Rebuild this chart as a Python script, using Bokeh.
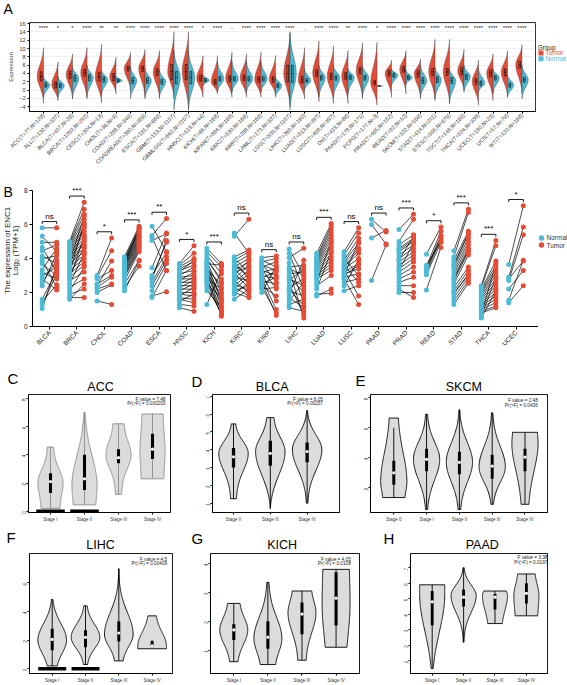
import numpy as np
from math import pi
from bokeh.plotting import figure
from bokeh.layouts import column, row
from bokeh.models import FixedTicker, Range1d
from bokeh.embed import file_html
from bokeh.resources import INLINE
from bokeh.core.properties import value

FONT = "Liberation Sans"
RED = "#E64B35"
CYAN = "#4DBBD5"

# ---------------- Panel A data ----------------
A_labels = ["ACC(T=77,N=128)", "ALL(T=132,N=337)", "BLCA(T=407,N=28)", "BRCA(T=1092,N=292)",
            "CESC(T=304,N=13)", "CHOL(T=36,N=9)", "COAD(T=288,N=349)", "COADREAD(T=380,N=359)",
            "ESCA(T=181,N=668)", "GBM(T=153,N=1157)", "GBMLGG(T=662,N=1157)", "HNSC(T=518,N=44)",
            "KICH(T=66,N=168)", "KIPAN(T=884,N=168)", "KIRC(T=530,N=168)", "KIRP(T=288,N=168)",
            "LAML(T=173,N=337)", "LGG(T=509,N=1157)", "LIHC(T=369,N=160)", "LUAD(T=513,N=397)",
            "LUSC(T=498,N=397)", "OV(T=419,N=88)", "PAAD(T=178,N=171)", "PCPG(T=177,N=3)",
            "PRAD(T=495,N=152)", "READ(T=92,N=10)", "SKCM(T=102,N=558)", "STAD(T=414,N=211)",
            "STES(T=595,N=879)", "TGCT(T=148,N=165)", "THCA(T=504,N=338)", "UCEC(T=180,N=23)",
            "UCS(T=57,N=78)", "WT(T=120,N=168)"]
A_sig = ["****", "*", "*", "****", "**", "**", "****", "****", "****", "****", "****", "*",
         "****", "-", "****", "****", "****", "****", ".", "****", "****", "**", "****", "*",
         "****", "****", "****", "****", "****", "****", "****", "****", "****", "****"]
A_t_lo = [-3.1, -2.5, -2.1, -2.1, -3.1, -0.9, -0.2, -1.7, -2.1, -2.0, -4.8, -1.7, -0.9, -1.7, -1.7, -1.7, -1.3,
          -4.0, -2.1, -2.8, -3.2, -3.2, -2.1, -3.6, -1.7, -0.9, -2.1, -2.5, -3.2, -0.2, -3.6, -2.5, -1.7, -0.9]
A_t_med = [3.3, 1.3, 3.8, 4.2, 3.2, 3.2, 5.2, 5.2, 4.4, 4.5, 4.5, 2.9, 2.0, 2.8, 3.0, 2.6, 2.6,
           4.0, 2.5, 4.1, 3.3, 3.4, 4.7, 1.8, 4.1, 5.0, 4.0, 4.4, 4.4, 4.6, 2.1, 4.1, 4.3, 6.1]
A_t_hi = [10.2, 6.8, 8.7, 10.2, 11.0, 7.9, 9.1, 9.8, 9.5, 14.0, 14.0, 8.3, 8.3, 9.1, 8.7, 9.1, 8.3,
          13.7, 10.2, 11.8, 10.6, 9.5, 11.4, 11.5, 7.2, 9.5, 7.5, 12.2, 12.2, 9.8, 7.2, 8.7, 9.5, 10.9]
A_t_q1 = [2.2, 0.5, 2.8, 3.4, 2.2, 2.3, 4.6, 4.5, 3.5, 2.5, 2.5, 2.2, 1.4, 2.0, 2.3, 1.9, 1.9,
          2.0, 1.7, 3.3, 2.5, 2.6, 3.9, 1.3, 3.4, 4.3, 3.1, 3.5, 3.5, 3.7, 1.4, 3.2, 3.4, 5.3]
A_t_q3 = [4.4, 2.0, 4.6, 5.0, 4.2, 4.0, 5.8, 5.8, 5.2, 6.2, 6.2, 3.6, 2.6, 3.5, 3.6, 3.2, 3.2,
          6.0, 3.3, 4.9, 4.1, 4.2, 5.4, 2.3, 4.8, 5.7, 4.8, 5.2, 5.2, 5.5, 2.8, 4.9, 5.1, 6.9]
A_n_lo = [-1.7, -1.7, -2.1, -1.7, -1.3, 1.4, -2.1, -2.1, -1.7, -4.8, -4.8, 1.0, -0.5, -0.5, -0.5, -0.5, -1.7,
          -4.8, 0.0, -1.7, -1.7, -0.9, -1.7, 0.9, 0.9, 1.4, -1.7, -2.1, -3.2, -0.5, -0.5, -0.9, -1.7, -2.1]
A_n_med = [1.2, 1.1, 2.9, 3.0, 2.6, 2.3, 2.3, 2.3, 2.0, 3.0, 3.0, 2.4, 2.7, 2.7, 2.7, 2.7, 1.1,
           4.0, 2.3, 3.0, 3.0, 3.1, 3.0, 1.0, 3.6, 3.0, 2.3, 2.5, 2.3, 3.2, 1.7, 3.0, 1.2, 2.5]
A_n_hi = [3.3, 3.3, 5.6, 6.0, 4.8, 3.3, 5.6, 5.3, 4.8, 9.5, 9.5, 3.7, 6.8, 6.8, 6.8, 6.8, 3.3,
          14.0, 5.2, 6.0, 6.0, 5.2, 6.0, 1.1, 5.2, 4.8, 6.0, 5.6, 5.2, 6.0, 5.2, 5.2, 3.7, 6.0]
A_n_q1 = [0.7, 0.6, 2.1, 2.2, 1.9, 1.9, 1.6, 1.6, 1.4, 1.5, 1.5, 2.0, 2.2, 2.2, 2.2, 2.2, 0.6,
          1.8, 1.9, 2.4, 2.4, 2.5, 2.4, 0.95, 3.1, 2.6, 1.6, 1.8, 1.6, 2.5, 1.1, 2.4, 0.7, 1.9]
A_n_q3 = [1.8, 1.6, 3.6, 3.7, 3.2, 2.7, 3.0, 3.0, 2.6, 4.5, 4.5, 2.8, 3.3, 3.3, 3.3, 3.3, 1.6,
          6.0, 2.8, 3.5, 3.5, 3.6, 3.5, 1.05, 4.1, 3.5, 3.0, 3.2, 3.0, 3.8, 2.2, 3.5, 1.7, 3.1]
A_yticks = [-4, -2, 0, 2, 4, 6, 8, 10, 12, 14, 16]
A_groups = ["Tumor", "Normal"]

# ---------------- Panel B data ----------------
B_cancers = ["BLCA", "BRCA", "CHOL", "COAD", "ESCA", "HNSC", "KICH", "KIRC", "KIRP",
             "LIHC", "LUAD", "LUSC", "PAAD", "PRAD", "READ", "STAD", "THCA", "UCEC"]
B_sig = ["ns", "***", "*", "***", "**", "*", "***", "ns", "ns", "ns", "***", "ns", "ns",
         "***", "*", "***", "***", "*"]
BLCA_N = [5.8, 5.3, 4.95, 4.65, 4.45, 4.15, 4.0, 3.87, 3.67, 3.34, 3.18, 2.98, 2.79, 2.59, 2.4, 1.6, 1.47, 1.3, 1.06]
BLCA_T = [5.8, 4.4, 4.95, 3.2, 4.8, 3.7, 4.16, 2.3, 3.0, 4.6, 2.8, 3.5, 2.15, 3.9, 4.3, 3.3, 2.45, 3.1, 3.6]
BRCA_N = [5.0, 4.9, 4.8, 4.7, 4.6, 4.5, 4.4, 4.3, 4.2, 4.1, 4.0, 3.9, 3.8, 3.7, 3.6, 3.5, 3.4, 3.3, 3.2, 3.1,
          3.0, 2.9, 2.8, 2.7, 2.5, 2.3, 2.1, 1.9, 1.7, 1.6]
BRCA_T = [7.3, 6.9, 6.6, 6.3, 6.0, 5.8, 5.6, 5.4, 5.2, 5.0, 4.8, 4.6, 6.5, 4.4, 5.9, 4.2, 5.1, 4.0, 6.1, 3.8,
          4.7, 3.6, 5.3, 3.2, 4.3, 2.8, 3.5, 2.2, 1.7, 2.5]
CHOL_N = [3.0, 2.9, 2.8, 2.5, 2.4, 2.3, 2.2, 2.0, 1.5]
CHOL_T = [5.2, 4.45, 3.3, 3.0, 3.85, 2.9, 2.5, 2.45, 1.3]
COAD_N = [4.1, 4.0, 3.9, 3.85, 3.8, 3.7, 3.6, 3.55, 3.5, 3.4, 3.3, 3.2, 3.1, 3.0, 2.9, 2.7, 2.5, 2.3, 2.1, 3.65]
COAD_T = [5.9, 5.8, 5.7, 5.6, 5.5, 5.4, 5.3, 5.2, 5.1, 5.0, 4.9, 4.8, 4.7, 4.6, 4.5, 4.4, 3.9, 3.55, 3.85, 5.75]
ESCA_N = [5.9, 5.35, 5.25, 5.05, 3.45, 2.9, 2.8, 2.6, 2.4, 2.1, 1.8, 1.7, 3.0]
ESCA_T = [4.4, 6.35, 3.3, 5.45, 5.5, 4.95, 5.05, 4.1, 3.9, 3.7, 2.05, 3.3, 4.35]
HNSC_N = [3.7, 3.6, 3.5, 3.4, 3.3, 3.2, 3.1, 3.0, 2.9, 2.8, 2.7, 2.6, 2.5, 2.4, 2.3, 2.2, 2.1, 2.0, 1.9, 1.8,
          1.7, 1.6, 1.5, 1.3, 1.1]
HNSC_T = [4.75, 4.3, 4.0, 3.8, 3.6, 3.9, 3.3, 3.5, 3.0, 2.8, 3.2, 2.6, 2.9, 2.4, 2.7, 2.2, 2.5, 2.0, 1.8, 2.3,
          1.6, 1.4, 1.9, 1.2, 0.9]
KICH_N = [4.6, 4.4, 4.2, 4.0, 3.8, 3.7, 3.6, 3.5, 3.4, 3.3, 3.2, 3.1, 3.0, 2.9, 2.8, 2.7, 2.6, 2.5, 2.3, 2.1,
          1.3, 3.9, 3.55]
KICH_T = [3.7, 3.5, 3.1, 2.6, 2.0, 3.6, 1.6, 2.3, 1.2, 2.5, 0.9, 1.9, 1.4, 0.6, 2.2, 1.0, 0.7, 1.7, 0.8, 1.1,
          3.3, 2.8, 1.5]
KIRC_N = [5.5, 5.3, 4.1, 4.0, 3.9, 3.8, 3.7, 3.6, 3.5, 3.4, 3.3, 3.2, 3.1, 3.0, 2.9, 2.8, 2.7, 2.6, 2.5, 2.4,
          2.3, 2.2, 2.1, 2.0, 1.9, 1.6]
KIRC_T = [4.3, 6.3, 4.5, 3.2, 4.4, 2.8, 4.2, 3.0, 4.0, 2.5, 3.8, 3.5, 2.3, 3.9, 2.7, 3.6, 2.0, 3.3, 2.1, 3.1,
          1.8, 2.9, 2.4, 1.7, 2.6, 2.2]
KIRP_N = [4.05, 3.9, 3.8, 3.7, 3.6, 3.5, 3.4, 3.3, 3.2, 3.1, 3.0, 2.9, 2.8, 2.7, 2.6, 2.5, 2.4, 2.3, 2.2, 2.0]
KIRP_T = [4.15, 3.5, 4.0, 2.6, 3.3, 3.8, 2.2, 3.0, 3.4, 1.5, 2.8, 3.2, 1.0, 2.5, 0.65, 2.9, 1.8, 0.8, 2.3, 3.6]
LIHC_N = [4.55, 4.3, 4.05, 3.75, 3.5, 3.3, 3.1, 2.9, 2.7, 2.5, 2.3, 2.1, 1.9, 1.7, 1.5, 1.3, 1.1, 3.4, 2.8, 2.2]
LIHC_T = [3.0, 2.2, 4.6, 1.4, 3.6, 0.5, 3.2, 2.0, 3.4, 0.7, 2.8, 1.8, 3.9, 1.1, 2.6, 1.6, 0.9, 3.0, 2.4, 1.2]
LUAD_N = [4.3, 4.1, 4.0, 3.9, 3.8, 3.7, 3.6, 3.5, 3.4, 3.3, 3.2, 3.1, 3.0, 2.9, 2.8, 2.6, 2.4, 2.2, 1.8, 1.9]
LUAD_T = [6.05, 5.9, 5.7, 5.5, 5.3, 5.1, 4.9, 4.7, 4.5, 4.3, 4.1, 3.9, 3.7, 3.5, 3.3, 5.0, 3.0, 4.4, 2.2, 1.95]
LUSC_N = [4.4, 4.2, 4.0, 3.9, 3.8, 3.7, 3.6, 3.5, 3.4, 3.3, 3.2, 3.1, 3.0, 2.9, 2.8, 2.6, 2.4, 2.1, 3.5, 3.0]
LUSC_T = [5.8, 5.5, 3.0, 5.2, 4.9, 4.6, 2.6, 4.3, 4.0, 1.8, 3.7, 3.4, 5.0, 3.1, 1.3, 2.8, 3.9, 2.4, 4.5, 3.6]
PAAD_N = [6.3, 6.0, 5.2, 2.7]
PAAD_T = [5.55, 4.85, 5.65, 4.8]
PRAD_N = [5.7, 5.0, 4.8, 4.6, 4.4, 4.2, 4.0, 3.8, 3.6, 3.4, 3.2, 3.0, 2.8, 2.6, 2.4, 2.2, 2.0, 3.9, 3.3, 4.5]
PRAD_T = [6.6, 6.3, 5.4, 5.2, 5.0, 4.8, 4.6, 4.4, 4.2, 4.0, 3.8, 3.5, 3.2, 2.9, 2.4, 1.7, 2.0, 5.3, 4.9, 5.1]
READ_N = [4.25, 3.55, 3.4, 3.2, 3.05, 2.15, 3.3, 3.6]
READ_T = [5.85, 5.6, 5.35, 5.15, 4.95, 4.65, 5.3, 5.0]
STAD_N = [4.45, 4.1, 3.9, 3.7, 3.5, 3.3, 3.1, 2.9, 2.7, 2.5, 2.3, 2.1, 1.9, 1.7, 1.5, 1.3, 3.6, 2.8, 2.0]
STAD_T = [6.9, 6.7, 5.6, 5.4, 5.2, 5.0, 4.8, 4.6, 4.4, 4.2, 3.5, 3.3, 3.1, 2.9, 2.7, 2.55, 5.5, 4.5, 3.0]
THCA_N = [2.4, 2.3, 2.2, 2.1, 2.0, 1.9, 1.8, 1.7, 1.6, 1.5, 1.4, 1.3, 1.2, 1.1, 1.0, 0.9, 0.8, 0.7, 0.6, 0.5]
THCA_T = [5.05, 4.75, 3.85, 3.6, 3.4, 3.2, 3.0, 2.8, 2.6, 2.4, 2.2, 2.0, 1.8, 1.6, 1.4, 1.2, 1.1, 3.7, 2.9, 2.1]
UCEC_N = [3.65, 2.9, 2.7, 2.2, 1.55, 1.4, 2.8]
UCEC_T = [7.1, 5.85, 5.4, 3.3, 3.9, 2.4, 3.85]
B_normal = [BLCA_N, BRCA_N, CHOL_N, COAD_N, ESCA_N, HNSC_N, KICH_N, KIRC_N, KIRP_N,
            LIHC_N, LUAD_N, LUSC_N, PAAD_N, PRAD_N, READ_N, STAD_N, THCA_N, UCEC_N]
B_tumor = [BLCA_T, BRCA_T, CHOL_T, COAD_T, ESCA_T, HNSC_T, KICH_T, KIRC_T, KIRP_T,
           LIHC_T, LUAD_T, LUSC_T, PAAD_T, PRAD_T, READ_T, STAD_T, THCA_T, UCEC_T]
B_yticks = [0, 2, 4, 6, 8]
B_groups = ["Normal", "Tumor"]

# ---------------- Panels C-H data (stage violins) ----------------
C_stages = ["Stage I", "Stage II", "Stage III", "Stage IV"]
C_lo = [0.2, 0.45, 1.2, 2.3]
C_hi = [4.55, 7.0, 6.2, 6.9]
C_mode = [2.0, 1.8, 4.0, 4.3]
C_med = [2.1, 2.3, 3.8, 4.4]
C_q1 = [1.3, 1.5, 3.4, 3.7]
C_q3 = [2.7, 4.0, 4.4, 5.5]
C_zero = [True, True, False, False]

D_stages = ["Stage II", "Stage III", "Stage IV"]
D_lo = [1.25, 0.7, 1.0]
D_hi = [5.45, 5.8, 6.2]
D_mode = [3.8, 3.9, 4.0]
D_med = [3.6, 3.8, 3.9]
D_q1 = [3.0, 3.1, 3.3]
D_q3 = [4.1, 4.5, 4.4]

E_stages = ["Stage 0", "Stage I", "Stage II", "Stage III", "Stage IV"]
E_lo = [1.35, 0.55, 0.55, 0.9, 0.9]
E_hi = [6.65, 6.9, 7.2, 7.0, 5.7]
E_mode = [2.4, 3.9, 3.7, 3.4, 5.0]
E_med = [3.0, 3.9, 3.7, 3.45, 4.05]
E_q1 = [2.2, 3.1, 2.9, 2.6, 3.1]
E_q3 = [3.8, 4.6, 4.4, 4.2, 4.6]
E_whi = [6.0, 6.9, 7.2, 7.0, 5.7]

F_stages = ["Stage I", "Stage II", "Stage III", "Stage IV"]
F_lo = [0.2, 0.3, 0.55, 1.4]
F_hi = [4.85, 4.4, 7.0, 3.7]
F_mode = [2.0, 2.2, 2.4, 1.6]
F_med = [2.05, 2.2, 2.5, 1.6]
F_q1 = [1.3, 1.5, 1.9, 1.5]
F_q3 = [2.8, 2.7, 3.3, 1.95]
F_wlo = [0.2, 0.3, 0.55, 1.5]
F_whi = [4.85, 4.4, 7.0, 2.0]
F_zero = [True, True, False, False]

G_stages = ["Stage I", "Stage II", "Stage III", "Stage IV"]
G_lo = [0.6, 0.5, 0.65, 1.1]
G_hi = [2.62, 3.35, 3.05, 3.8]
G_mode = [1.7, 1.4, 2.3, 2.6]
G_med = [1.7, 1.45, 2.25, 2.8]
G_q1 = [1.35, 1.05, 1.55, 1.85]
G_q3 = [1.9, 2.0, 2.65, 3.7]

H_stages = ["Stage I", "Stage II", "Stage III", "Stage IV"]
H_lo = [0.5, 2.2, 3.4, 3.9]
H_hi = [5.9, 7.0, 5.5, 6.6]
H_mode = [5.3, 5.2, 5.2, 5.2]
H_med = [4.8, 5.1, 5.1, 5.35]
H_q1 = [3.3, 4.5, 4.3, 4.7]
H_q3 = [5.5, 5.6, 5.3, 6.0]

F_values = ["7.48", "6.05", "2.48", "4.5", "4.05", "3.38"]
P_values = ["0.000203", "0.00257", "0.0436", "0.00409", "0.0108", "0.0197"]
panel_titles = ["ACC", "BLCA", "SKCM", "LIHC", "KICH", "PAAD"]
panel_letters = ["A", "B", "C", "D", "E", "F", "G", "H"]


# ---------------- helpers ----------------
def make_fig(w, h, bl, br, bt, bb, xr, yr):
    p = figure(width=w, height=h, x_range=Range1d(*xr), y_range=Range1d(*yr),
               output_backend="svg", toolbar_location=None,
               min_border_left=bl, min_border_right=br, min_border_top=bt, min_border_bottom=bb)
    p.grid.visible = False
    p.outline_line_color = None
    p.background_fill_color = "white"
    p.border_fill_color = "white"
    return p


def strip(w, h):
    """A blank figure (no axes) in pixel coordinates, for texts outside plot frames."""
    p = figure(width=w, height=h, x_range=Range1d(0, w), y_range=Range1d(0, h),
               output_backend="svg", toolbar_location=None,
               x_axis_location=None, y_axis_location=None,
               min_border_left=0, min_border_right=0, min_border_top=0, min_border_bottom=0)
    p.grid.visible = False
    p.outline_line_color = None
    p.background_fill_color = "white"
    p.border_fill_color = "white"
    return p


def put_text(p, h, xs, ys, texts, size, color="black", align="left", angle=0.0):
    # ys are measured from the top of the strip
    p.text(x=xs, y=[h - y for y in ys], text=texts, text_font=value(FONT),
           text_font_size=f"{size}px", text_color=color, text_align=align,
           text_baseline="middle", angle=angle)


def shape(lo, hi, mode, tw, bw, ku, kd, n=90):
    ys = np.linspace(lo, hi, n)
    w = np.zeros(n)
    for i, y in enumerate(ys):
        if y >= mode:
            t = (y - mode) / (hi - mode) if hi > mode else 0.0
            k, e = ku, tw
        else:
            t = (mode - y) / (mode - lo) if mode > lo else 0.0
            k, e = kd, bw
        g = (np.exp(-k * t * t) - np.exp(-k)) / (1 - np.exp(-k))
        w[i] = e + (1 - e) * g
    return ys, w


def style_axes(p, size, color="black"):
    for ax in (p.xaxis[0], p.yaxis[0]):
        ax.major_label_text_font = FONT
        ax.major_label_text_font_size = f"{size}px"
        ax.major_label_text_color = color
        ax.minor_tick_line_color = None
        ax.major_tick_in = 0
        ax.axis_line_color = "black"
        ax.major_tick_line_color = "black"


# ================= Panel A =================
hdrA = strip(567, 18)
put_text(hdrA, 18, [3], [8.5], [panel_letters[0]], 14)

A_xr = (0.034, 0.034 + (535 - 29) / 14.5)
A_yr = (-5.13, 16.25)
pA = make_fig(537, 152, 29, 2, 4, 55, A_xr, A_yr)
pA.outline_line_color = "black"
pA.outline_line_width = 0.8
pA.ygrid.visible = True
pA.ygrid.grid_line_color = "#E6E6E6"
pA.ygrid.grid_line_width = 0.6

txs, tys, nxs, nys = [], [], [], []
for i in range(len(A_labels)):
    c = i + 1
    ys, w = shape(A_t_lo[i], A_t_hi[i], A_t_med[i], 0.0, 0.0, 3.2, 3.2)
    txs.append([c] + list(c - 0.43 * w) + [c])
    tys.append([A_t_lo[i]] + list(ys) + [A_t_hi[i]])
    ys, w = shape(A_n_lo[i], A_n_hi[i], A_n_med[i], 0.0, 0.0, 3.2, 3.2)
    nxs.append([c] + list(c + 0.43 * w) + [c])
    nys.append([A_n_lo[i]] + list(ys) + [A_n_hi[i]])
pA.patches(txs, tys, fill_color=RED, line_color="#3a3a3a", line_width=0.4)
pA.patches(nxs, nys, fill_color=CYAN, line_color="#3a3a3a", line_width=0.4)
cx = np.arange(1, len(A_labels) + 1)
pA.quad(left=cx - 0.22, right=cx - 0.1, bottom=A_t_q1, top=A_t_q3, fill_color=None,
        line_color="black", line_width=0.6)
pA.quad(left=cx + 0.1, right=cx + 0.22, bottom=A_n_q1, top=A_n_q3, fill_color=None,
        line_color="black", line_width=0.6)
pA.segment(cx - 0.22, A_t_med, cx - 0.1, A_t_med, line_color="black", line_width=0.6)
pA.segment(cx + 0.1, A_n_med, cx + 0.22, A_n_med, line_color="black", line_width=0.6)
pA.text(x=list(cx), y=[15.0] * len(cx), text=A_sig, text_font=value(FONT), text_font_size="6px",
        text_align="center", text_baseline="middle", text_color="#222222")

style_axes(pA, 5.5, "#333333")
pA.xaxis.ticker = FixedTicker(ticks=list(cx))
pA.xaxis.major_label_overrides = {int(c): lab for c, lab in zip(cx, A_labels)}
pA.xaxis.major_label_orientation = pi / 4
pA.xaxis.major_tick_out = 2
pA.xaxis.major_label_standoff = 1
pA.yaxis.ticker = FixedTicker(ticks=A_yticks)
pA.yaxis.major_tick_out = 2
pA.yaxis.major_label_standoff = 2
pA.yaxis.axis_label = "Expression"
pA.yaxis.axis_label_text_font = FONT
pA.yaxis.axis_label_text_font_size = "6px"
pA.yaxis.axis_label_text_font_style = "normal"
pA.yaxis.axis_label_standoff = 2
pA.axis.axis_line_width = 0.8

legA = strip(30, 152)
put_text(legA, 152, [0], [42], ["Group"], 6.5, "#222222")
legA.scatter([3.5, 3.5], [152 - 52, 152 - 62], marker="square", size=5, fill_color=[RED, CYAN],
             line_color=None)
put_text(legA, 152, [8], [52], [A_groups[0]], 6.3, RED)
put_text(legA, 152, [8], [62], [A_groups[1]], 6.3, CYAN)

# ================= Panel B =================
ylabB = strip(20, 190)
put_text(ylabB, 190, [3], [10], [panel_letters[1]], 14)
put_text(ylabB, 190, [7, 15], [88, 88], ["The expression of ENC1", "Log\u2082 (TPM+1)"], 8,
         "#222222", "center", pi / 2)

B_xr = (0.382, 0.382 + (538 - 31) / 27.5)
B_yr = (0.0, 8.35)
pB = make_fig(518, 190, 11, 0, 14, 34, B_xr, B_yr)
off = 0.265
sx0, sy0, sx1, sy1 = [], [], [], []
pnx, pny, ptx, pty = [], [], [], []
bx0, by0, bx1, by1 = [], [], [], []
tx, ty = [], []
for i, (nv, tv) in enumerate(zip(B_normal, B_tumor)):
    c = i + 1
    for a, b in zip(nv, tv):
        sx0.append(c - off); sy0.append(a); sx1.append(c + off); sy1.append(b)
        pnx.append(c - off); pny.append(a); ptx.append(c + off); pty.append(b)
    top = max(nv + tv) + 0.37
    bx0 += [c - off, c - off, c + off]; by0 += [top, top, top]
    bx1 += [c + off, c - off, c + off]; by1 += [top, top - 0.15, top - 0.15]
    tx.append(c); ty.append(top + 0.05)
pB.segment(sx0, sy0, sx1, sy1, line_color="black", line_width=0.7)
pB.scatter(pnx, pny, size=5, fill_color=CYAN, line_color=None)
pB.scatter(ptx, pty, size=5, fill_color=RED, line_color=None)
pB.segment(bx0, by0, bx1, by1, line_color="black", line_width=0.9)
pB.text(x=tx, y=ty, text=B_sig, text_font=value(FONT), text_font_size="8px",
        text_align="center", text_baseline="bottom", text_color="black")
style_axes(pB, 6.5, "#222222")
bxt = list(range(1, len(B_cancers) + 1))
pB.xaxis.ticker = FixedTicker(ticks=bxt)
pB.xaxis.major_label_overrides = {c: lab for c, lab in zip(bxt, B_cancers)}
pB.xaxis.major_label_orientation = pi / 4
pB.xaxis.major_tick_out = 3
pB.xaxis.major_label_standoff = 2
pB.yaxis.ticker = FixedTicker(ticks=B_yticks)
pB.yaxis.bounds = (0, 8)
pB.yaxis.major_tick_out = 3
pB.yaxis.major_label_standoff = 2
pB.axis.axis_line_width = 1

legB = strip(29, 190)
legB.scatter([3, 3], [190 - 71.5, 190 - 81], marker="circle", size=5.5, fill_color=[CYAN, RED],
             line_color=None)
put_text(legB, 190, [8, 8], [71.5, 81], B_groups, 6.5, "#333333")


# ================= Panels C-H =================
def violin_panel(w, h, bl, br, bt, bb, xr, yr, stages, lo, hi, mode, tw, bw, ku, kd,
                 med, q1, q3, wlo, whi, zero, yticks, halfw, outline, fval, pval, ftx, fty):
    p = make_fig(w, h, bl, br, bt, bb, xr, yr)
    p.outline_line_color = "black"
    p.outline_line_width = 0.9
    for i in range(len(stages)):
        c = i + 1
        ys, ww = shape(lo[i], hi[i], mode[i], tw[i], bw[i], ku[i], kd[i])
        xs = list(c - halfw * ww) + list((c + halfw * ww)[::-1])
        yy = list(ys) + list(ys[::-1])
        p.patch(xs, yy, fill_color="#DCDCDC", line_color=outline, line_width=0.9)
    cs = list(range(1, len(stages) + 1))
    p.segment(cs, wlo, cs, whi, line_color=outline, line_width=0.9)
    p.vbar(x=cs, width=0.09, bottom=q1, top=q3, fill_color="black", line_color=None)
    p.scatter(cs, med, size=3.2, fill_color="white", line_color=None)
    zx = [c for c, z in zip(cs, zero) if z]
    if zx:
        p.segment([c - 0.42 for c in zx], [0] * len(zx), [c + 0.42 for c in zx], [0] * len(zx),
                  line_color="black", line_width=3.5)
    p.text(x=[ftx, ftx], y=fty, text=["F value = " + fval, "Pr(>F) = " + pval],
           text_font=value(FONT), text_font_size="4.7px", text_color="#222222",
           text_align="right", text_baseline="middle")
    style_axes(p, 4.5, "#333333")
    p.xaxis.ticker = FixedTicker(ticks=cs)
    p.xaxis.major_label_overrides = {c: s for c, s in zip(cs, stages)}
    p.xaxis.major_tick_out = 2
    p.xaxis.major_label_standoff = 2
    p.yaxis.ticker = FixedTicker(ticks=yticks)
    p.yaxis.major_label_orientation = pi / 2
    p.yaxis.major_tick_out = 2
    p.yaxis.major_label_standoff = 2
    p.axis.axis_line_width = 0.9
    return p


# header strip for row C-E (page y 360..393)
hdr3 = strip(567, 33)
put_text(hdr3, 33, [7, 191, 355], [18, 20.5, 20], panel_letters[2:5], 15)
put_text(hdr3, 33, [100, 271.7, 463.3], [26.5, 26, 26], panel_titles[0:3], 12.5, "black", "center")

pC = violin_panel(190, 132, 28, 20, 1, 13, (0.353, 4.529), (-0.092, 8.28),
                  C_stages, C_lo, C_hi, C_mode, [0.25, 0.05, 0.45, 0.85], [0.75, 0.9, 0.25, 0.9],
                  [3.5, 3.0, 3.0, 3.0], [2.5, 1.5, 4.0, 2.0],
                  C_med, C_q1, C_q3, C_lo, C_hi, C_zero, [0, 2, 4, 6, 8], 0.37, "#8a8a8a",
                  F_values[0], P_values[0], 4.38, [7.92, 7.64])
pD = violin_panel(162, 132, 22, 13, 1, 13, (0.429, 3.880), (0.478, 7.10),
                  D_stages, D_lo, D_hi, D_mode, [0.15, 0.25, 0.03], [0.2, 0.0, 0.05],
                  [3.0, 3.0, 3.5], [3.5, 3.0, 3.5],
                  D_med, D_q1, D_q3, D_lo, D_hi, [False] * 3, [1, 2, 3, 4, 5, 6, 7], 0.4, "black",
                  F_values[1], P_values[1], 3.43, [6.82, 6.60])
pE = violin_panel(215, 132, 18, 20, 1, 13, (0.290, 5.686), (0.353, 8.22),
                  E_stages, E_lo, E_hi, E_mode, [0.35, 0.08, 0.03, 0.05, 0.95], [0.85, 0.08, 0.1, 0.1, 0.3],
                  [2.5, 3.5, 3.5, 3.5, 2.0], [1.5, 3.0, 3.0, 3.0, 2.5],
                  E_med, E_q1, E_q3, E_lo, E_whi, [False] * 5, [2, 4, 6, 8], 0.4, "black",
                  F_values[2], P_values[2], 5.39, [7.82, 7.51])

# header strip for row F-H (page y 525..552)
hdr4 = strip(567, 27)
put_text(hdr4, 27, [6, 191, 383], [11.7, 13, 13], panel_letters[5:8], 15)
put_text(hdr4, 27, [100, 281.7, 481.7], [19, 19, 19], panel_titles[3:6], 12.5, "black", "center")

pF = violin_panel(190, 133, 29, 18, 1, 11, (0.318, 4.612), (-0.33, 8.06),
                  F_stages, F_lo, F_hi, F_mode, [0.05, 0.12, 0.0, 0.3], [0.35, 0.15, 0.3, 1.0],
                  [3.0, 3.0, 4.5, 2.5], [2.0, 3.0, 2.5, 1.0],
                  F_med, F_q1, F_q3, F_wlo, F_whi, F_zero, [0, 2, 4, 6], 0.43, "black",
                  F_values[3], P_values[3], 4.45, [7.66, 7.38])
pG = violin_panel(202, 133, 20, 33, 1, 11, (0.317, 4.687), (0.19, 4.35),
                  G_stages, G_lo, G_hi, G_mode, [0.45, 0.08, 0.7, 0.95], [0.3, 0.55, 0.3, 0.78],
                  [2.5, 3.5, 2.0, 1.0], [2.5, 2.0, 3.0, 1.0],
                  G_med, G_q1, G_q3, G_lo, G_hi, [False] * 4, [1, 2, 3, 4], 0.41, "black",
                  F_values[4], P_values[4], 4.43, [4.14, 3.99])
pH = violin_panel(175, 133, 18, 20, 1, 11, (0.309, 4.672), (0.18, 7.92),
                  H_stages, H_lo, H_hi, H_mode, [1.0, 0.05, 0.9, 0.7], [0.08, 0.03, 0.58, 0.9],
                  [1.0, 3.5, 1.0, 2.0], [2.0, 4.0, 2.0, 1.5],
                  H_med, H_q1, H_q3, H_lo, H_hi, [False] * 4, [1, 2, 3, 4, 5, 6, 7], 0.4, "black",
                  F_values[5], P_values[5], 4.67, [7.64, 7.34])

layout = column(hdrA, row(pA, legA), row(ylabB, pB, legB), hdr3, row(pC, pD, pE),
                hdr4, row(pF, pG, pH))
open("out.html", "w").write(file_html(layout, INLINE))
